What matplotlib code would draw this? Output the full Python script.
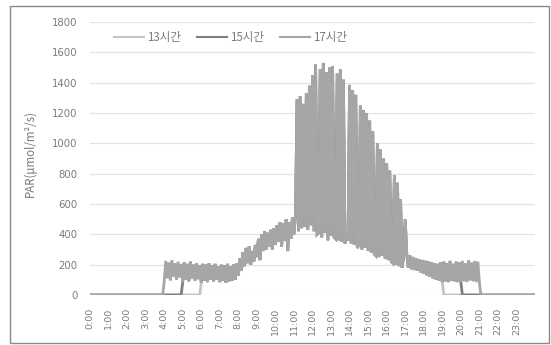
import numpy as np
import matplotlib
matplotlib.use("Agg")
import matplotlib.pyplot as plt
from matplotlib.patches import Rectangle

# PAR readings every 5 minutes from 4:00 to 21:00 (one row per hour)
par_day = [
    85, 225, 110, 215, 95, 230, 120, 210, 100, 220, 115, 205,        # 4:00
    85, 215, 100, 205, 90, 220, 110, 200, 95, 210, 105, 195,         # 5:00
    80, 205, 95, 200, 85, 210, 100, 195, 90, 205, 100, 190,          # 6:00
    85, 200, 95, 195, 80, 205, 90, 190, 95, 200, 100, 210,           # 7:00
    130, 240, 160, 280, 190, 310, 210, 320, 200, 290, 220, 330,      # 8:00
    250, 370, 230, 400, 290, 420, 300, 410, 320, 430, 300, 440,      # 9:00
    330, 460, 350, 480, 320, 470, 360, 500, 290, 480, 370, 510,      # 10:00
    400, 530, 1290, 420, 1310, 440, 1260, 450, 1330, 430, 1380, 460,  # 11:00
    1450, 420, 1520, 400, 410, 1490, 380, 1530, 410, 1470, 360, 1500,  # 12:00
    390, 1510, 380, 370, 1460, 360, 1490, 350, 1420, 340, 380, 360,   # 13:00
    1385, 340, 1350, 330, 1320, 310, 330, 1250, 300, 1220, 310, 1200,  # 14:00
    290, 1150, 280, 1080, 270, 260, 1000, 250, 960, 260, 900, 240,    # 15:00
    870, 230, 820, 220, 210, 790, 200, 740, 190, 630, 180, 260,       # 16:00
    500, 270, 180, 260, 170, 250, 165, 240, 160, 235, 150, 230,       # 17:00
    140, 225, 130, 220, 120, 215, 110, 210, 100, 205, 95, 215,        # 18:00
    85, 220, 90, 210, 85, 225, 95, 205, 90, 220, 85, 215,             # 19:00
    85, 225, 90, 210, 85, 230, 95, 215, 90, 225, 85, 220,             # 20:00
    85,                                                               # 21:00
]
day_start = 4  # hour of the first value in par_day

series_names = ["13시간", "15시간", "17시간"]
lights_on = [6, 5, 4]
lights_off = [19, 20, 21]
series_colors = ["#c4c4c4", "#7f7f7f", "#a6a6a6"]

hour_labels = [f"{h}:00" for h in range(24)]
y_ticks = list(range(0, 1801, 200))


def build_series(on, off):
    t = np.arange(0, 24 * 12 + 1) / 12.0
    vals = np.zeros_like(t)
    day = np.array(par_day, dtype=float)
    i0 = (on - day_start) * 12
    i1 = (off - day_start) * 12
    vals[on * 12: off * 12 + 1] = day[i0:i1 + 1]
    return t, vals


fig = plt.figure(figsize=(5.51, 3.45), dpi=100)
ax = fig.add_axes([90 / 551, 1 - 295 / 345, 445 / 551, 273 / 345])

for name, on, off, col in zip(series_names, lights_on, lights_off, series_colors):
    t, v = build_series(on, off)
    ax.plot(t, v, color=col, lw=2.0, label=name, solid_joinstyle="miter")

ax.set_xlim(0, 24)
ax.set_ylim(0, 1800)
ax.set_yticks(y_ticks)
ax.set_xticks(range(24))
ax.set_xticklabels(hour_labels, rotation=90, fontsize=6.8, color="#7a7a7a")
ax.tick_params(axis="y", length=0, pad=9, labelsize=7.3, labelcolor="#7a7a7a")
ax.tick_params(axis="x", length=0, pad=9)
ax.grid(axis="y", color="#e3e3e3", lw=0.9)
ax.set_axisbelow(True)
for s in ax.spines.values():
    s.set_visible(False)

ax.set_ylabel("PAR(μmol/m²/s)", fontsize=8.3, color="#7a7a7a",
              family=["Noto Sans CJK KR", "DejaVu Sans"], labelpad=10)
ax.yaxis.set_label_coords(-53 / 445, 0.52)

leg = ax.legend(ncol=3, frameon=False, loc="center left",
                bbox_to_anchor=(104 / 551, 1 - 38 / 345), bbox_transform=fig.transFigure,
                handlelength=2.6, handletextpad=0.25, columnspacing=1.4,
                prop={"family": ["Noto Sans CJK KR", "DejaVu Sans"], "size": 8.3})
for txt in leg.get_texts():
    txt.set_color("#7a7a7a")
for ln in leg.get_lines():
    ln.set_linewidth(1.5)

# outer chart border
fig.patches.append(Rectangle((10 / 551, 1 - 343 / 345), 539 / 551, 337 / 345,
                             transform=fig.transFigure, fill=False,
                             edgecolor="#8a8a8a", lw=1.0))

fig.savefig("out.png", dpi=100)
